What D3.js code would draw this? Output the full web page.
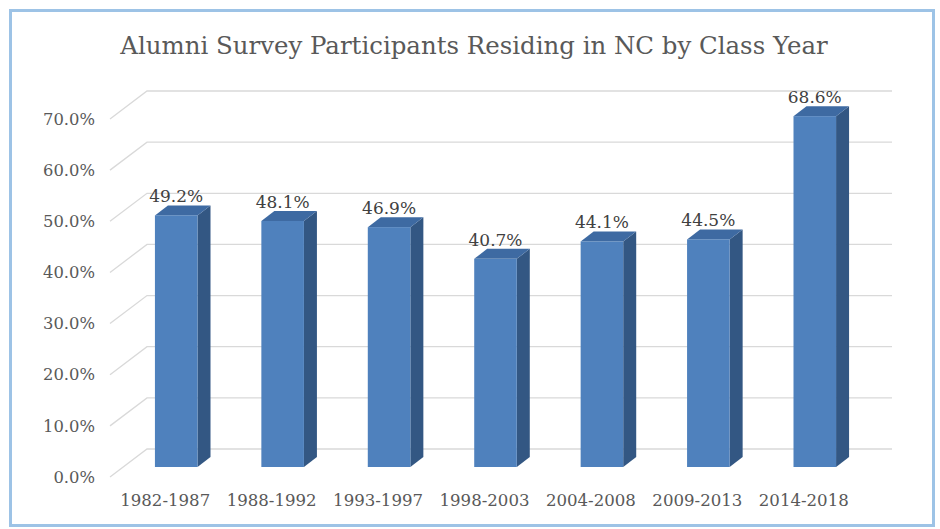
<html>
<head>
<script src="https://d3js.org/d3.v7.min.js"></script>
<style>
  body{margin:0;background:#fff;}
  text{font-family:"DejaVu Serif",serif;fill:#595959;}
  .lbl{fill:#404040;}
  .grid{stroke:#d9d9d9;fill:none;stroke-width:1.3;}
</style>
</head>
<body>
<script>
// data
const categories = ["1982-1987","1988-1992","1993-1997","1998-2003","2004-2008","2009-2013","2014-2018"];
const values = [49.2, 48.1, 46.9, 40.7, 44.1, 44.5, 68.6];
const yTicks = [0, 10, 20, 30, 40, 50, 60, 70];

const w = 940, h = 529;

// 3d offsets: full depth of the back wall, and where the bars sit in it
const wall = {dx:37, dy:-28};
const barFront = {dx:13, dy:-10};
const barDepth = {dx:13, dy:-10};

const svg = d3.select("body").append("svg")
  .attr("width", w)
  .attr("height", h);

// pick a font size so that sample text gets the width it has in the original
function fitSize(sample, width){
  const t = svg.append("text").style("font-size", "20px").text(sample);
  const len = t.node().getComputedTextLength();
  t.remove();
  return 20 * width / len;
}
const titleSize = fitSize("Alumni Survey Participants Residing in NC by Class Year", 708);
const ySize = fitSize("70.0%", 52);
const xSize = fitSize("1982-1987", 90);
const lblSize = fitSize("49.2%", 54);

svg.append("rect")
  .attr("x", 10.5).attr("y", 10.5)
  .attr("width", 923).attr("height", 515)
  .attr("fill", "#fff")
  .attr("stroke", "#9dc3e6")
  .attr("stroke-width", 3);

svg.append("text")
  .attr("x", 474)
  .attr("y", 54)
  .attr("text-anchor", "middle")
  .style("font-size", titleSize + "px")
  .text("Alumni Survey Participants Residing in NC by Class Year");

// scales on the front plane
const y = d3.scaleLinear().domain([0, 70]).range([477, 119]);
const x = d3.scaleBand()
  .domain(categories)
  .range([110, 855])
  .paddingInner(0.6)
  .paddingOuter(0.3);

// gridlines on floor edge + back wall
svg.append("g").selectAll("path")
  .data(yTicks)
  .enter().append("path")
  .attr("class", "grid")
  .attr("d", function(d){
    const x0 = x.range()[0], x1 = x.range()[1];
    return "M" + x0 + "," + y(d) +
      "L" + (x0 + wall.dx) + "," + (y(d) + wall.dy) +
      "L" + (x1 + wall.dx) + "," + (y(d) + wall.dy);
  });

// y labels
svg.append("g").selectAll("text")
  .data(yTicks)
  .enter().append("text")
  .style("font-size", ySize + "px")
  .attr("x", 95)
  .attr("y", d => y(d))
  .attr("dy", "0.35em")
  .attr("text-anchor", "end")
  .text(d => d.toFixed(1) + "%");

// x labels
svg.append("g").selectAll("text")
  .data(categories)
  .enter().append("text")
  .style("font-size", xSize + "px")
  .attr("x", d => x(d) + x.bandwidth()/2 + 2)
  .attr("y", 506)
  .attr("text-anchor", "middle")
  .text(d => d);

// bars
const bw = x.bandwidth();
const bars = svg.append("g").selectAll("g")
  .data(values)
  .enter().append("g");

bars.each(function(v, i){
  const g = d3.select(this);
  const fx = x(categories[i]) + barFront.dx;
  const fTop = y(v) + barFront.dy;
  const fBot = y(0) + barFront.dy;
  // side
  g.append("path")
    .attr("fill", "#335783")
    .attr("d", "M" + (fx + bw) + "," + fTop +
      "L" + (fx + bw + barDepth.dx) + "," + (fTop + barDepth.dy) +
      "L" + (fx + bw + barDepth.dx) + "," + (fBot + barDepth.dy) +
      "L" + (fx + bw) + "," + fBot + "Z");
  // top
  g.append("path")
    .attr("fill", "#3e6aa2")
    .attr("d", "M" + fx + "," + fTop +
      "L" + (fx + barDepth.dx) + "," + (fTop + barDepth.dy) +
      "L" + (fx + bw + barDepth.dx) + "," + (fTop + barDepth.dy) +
      "L" + (fx + bw) + "," + fTop + "Z");
  // front
  g.append("rect")
    .attr("fill", "#4f81bd")
    .attr("x", fx).attr("y", fTop)
    .attr("width", bw).attr("height", fBot - fTop);
  // value label
  g.append("text")
    .attr("class", "lbl")
    .style("font-size", lblSize + "px")
    .attr("x", fx + bw/2)
    .attr("y", fTop + barDepth.dy - 3)
    .attr("text-anchor", "middle")
    .text(v.toFixed(1) + "%");
});
</script>
</body>
</html>
